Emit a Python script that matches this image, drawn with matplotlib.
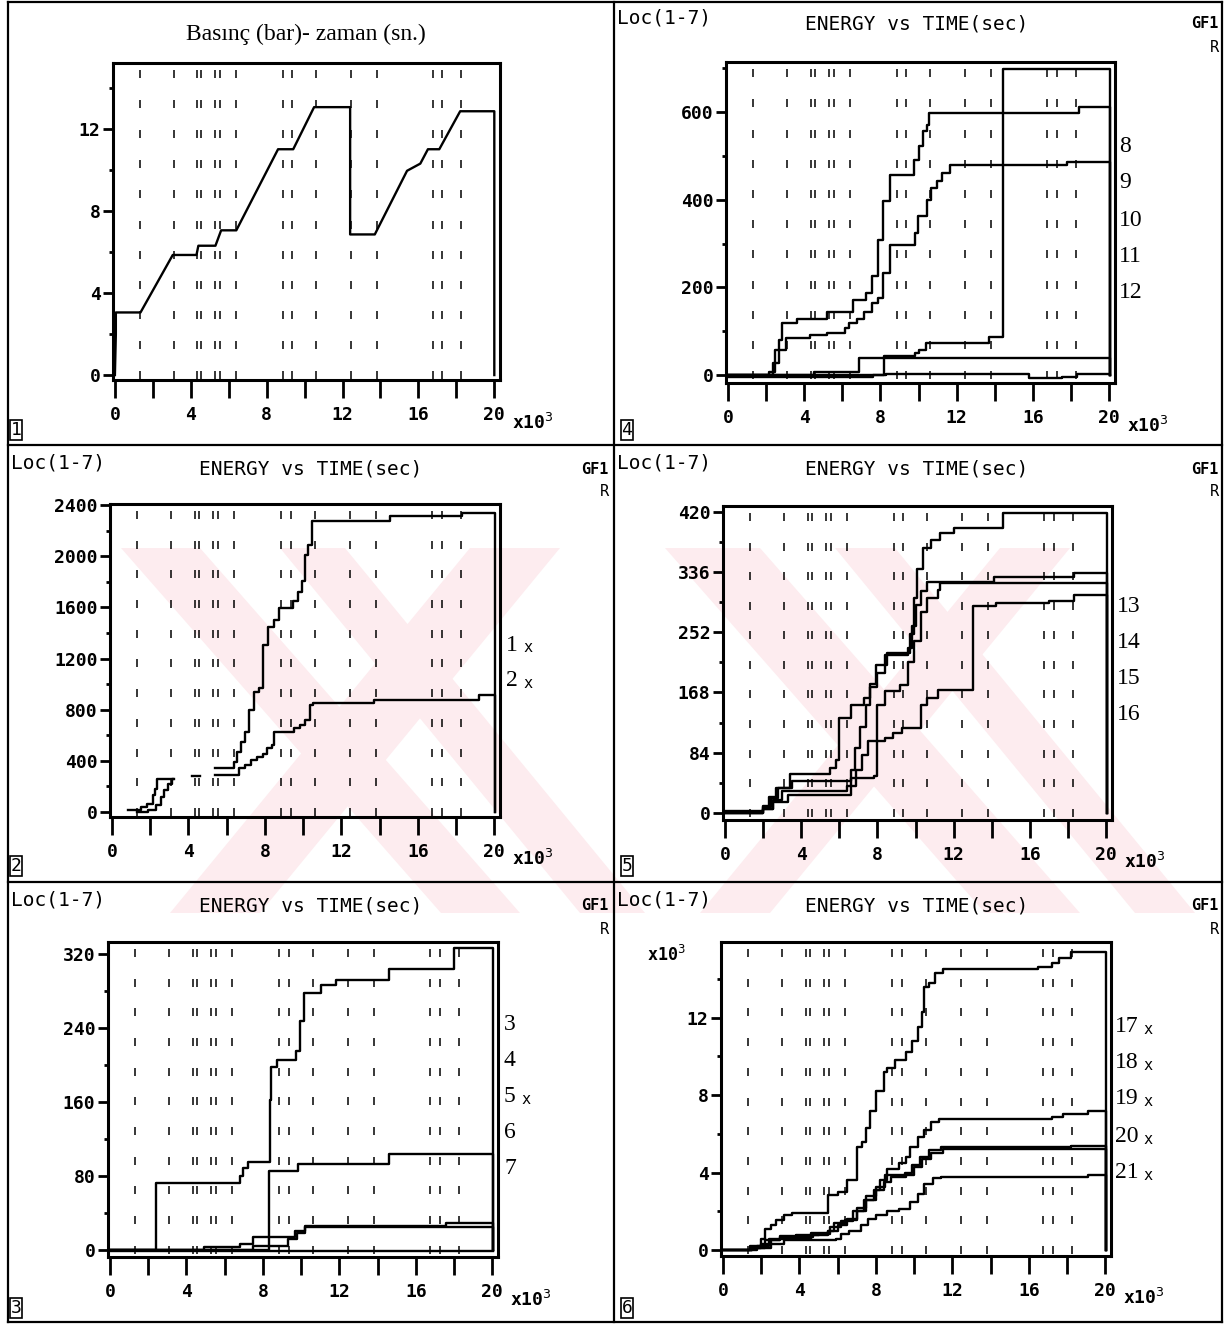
import numpy as np
import matplotlib.pyplot as plt
from matplotlib.patches import Polygon
from matplotlib.ticker import MultipleLocator

nan = np.nan

# ---- data (time in 10^3 s) ----
# panel 1: pressure (bar) vs time
p1_time = [0.0, 0.05, 0.05, 1.35, 3.05, 4.3, 4.4, 5.3, 5.6, 6.4, 8.6, 9.4, 10.5, 12.4, 12.4,
           13.7, 15.4, 16.1, 16.5, 17.1, 18.2, 20.0, 20.0]
p1_bar = [0.0, 2.0, 3.05, 3.05, 5.85, 5.85, 6.3, 6.3, 7.05, 7.05, 11.0, 11.0, 13.05, 13.05, 6.85,
          6.85, 9.95, 10.3, 11.0, 11.0, 12.85, 12.85, 0.0]

# event times shown as dotted columns in every panel
event_times = [1.33, 3.1, 4.35, 4.55, 5.3, 5.55, 6.4, 8.85, 9.35, 10.6, 12.45, 13.8, 16.75, 17.25, 18.25]

# panel 4: locations 8-12
s8_t = [0, 2.15, 2.45, 2.66, 2.86, 3.64, 5.21, 6.54, 7.26, 7.57, 7.87, 8.14, 8.49, 9.78, 10.02,
        10.22, 10.43, 10.53, 18.4, 20.05]
s8_v = [0, 8, 57, 80, 118, 129, 145, 171, 187, 225, 308, 396, 457, 491, 522, 556, 571, 598, 611, 0]
s9_t = [0, 2.35, 2.66, 3.07, 4.29, 5.2, 6.13, 6.35, 6.75, 7.16, 7.57, 7.87, 8.14, 8.49, 9.82, 9.98,
        10.43, 10.67, 10.94, 11.25, 11.66, 17.8, 20.05]
s9_v = [0, 27, 57, 84, 91, 95, 107, 118, 129, 145, 164, 175, 232, 297, 324, 362, 400, 426, 442,
        461, 478, 485, 0]
s10_t = [0, 8.2, 9.8, 10.0, 10.4, 13.7, 14.42, 20.05]
s10_v = [0, 43, 50, 57, 74, 86, 697, 0]
s11_t = [0, 4.5, 6.85, 20.05]
s11_v = [0, 8, 40, 0]
s12_t = [0, 7.6, 8.3, 15.8, 17.5, 18.3, 20.05]
s12_v = [-4, 0, 3, -6, -4, 2, 0]

# panel 2: locations 1-2
s1_t = [0.82, 1.54, 1.84, 2.15, 2.25, 2.35, 3.17, 4.2, 4.6, 5.4, 6.39, 6.55, 6.76, 6.96, 7.16, 7.43,
        7.68, 7.92, 8.19, 8.5, 8.74, 9.48, 9.72, 9.93, 10.09, 10.24, 10.44, 14.53, 18.32, 20.05]
s1_v = [13, 39, 65, 130, 183, 261, nan, 280, nan, 340, 392, 470, 549, 627, 797, 941, 967, 1307,
        1451, 1503, 1595, 1647, 1725, 1804, 2013, 2092, 2275, 2314, 2340, 0]
s2_t = [1.3, 1.9, 2.3, 2.55, 2.75, 2.95, 3.15, 3.25, 5.4, 6.65, 6.96, 7.27, 7.57, 7.88, 8.09, 8.39,
        8.5, 9.52, 9.83, 10.09, 10.34, 10.54, 13.72, 19.18, 20.05]
s2_v = [0, 13, 52, 118, 170, 222, 261, nan, 288, 340, 366, 405, 431, 457, 497, 523, 627, 654, 680,
        719, 837, 850, 876, 915, 0]

# panel 5: locations 13-16
s13_t = [0, 2.0, 2.3, 2.7, 3.4, 5.5, 5.8, 6.0, 6.6, 7.3, 7.6, 7.9, 8.5, 9.7, 9.9, 10.1, 10.4, 10.8,
         11.3, 12.0, 14.6, 20.05]
s13_v = [2, 10, 22, 35, 54, 62, 74, 132, 150, 160, 180, 206, 223, 250, 300, 340, 369, 380, 390,
         397, 418, 0]
s14_t = [0, 2.0, 2.4, 2.8, 3.5, 6.6, 6.8, 7.1, 7.4, 7.6, 8.0, 8.4, 9.6, 9.8, 10.0, 10.3, 10.6,
         14.1, 18.3, 20.05]
s14_v = [0, 8, 20, 35, 45, 60, 90, 120, 150, 175, 195, 220, 230, 260, 290, 310, 322, 329, 334, 0]
s15_t = [0, 2.0, 2.5, 3.0, 6.4, 6.9, 7.2, 7.5, 8.0, 8.4, 9.2, 9.6, 9.9, 10.3, 10.6, 11.2, 11.3, 20.05]
s15_v = [0, 5, 18, 30, 38, 60, 80, 100, 150, 170, 178, 210, 240, 280, 300, 311, 320, 0]
s16_t = [0, 2.0, 2.5, 3.3, 6.6, 7.8, 8.0, 8.4, 8.8, 9.3, 10.3, 10.6, 11.2, 13.0, 14.2, 17.0, 18.3, 20.05]
s16_v = [0, 5, 15, 25, 49, 51, 100, 105, 112, 118, 150, 160, 172, 288, 292, 295, 304, 0]

# panel 3: locations 3-7
s3_t = [0, 2.43, 6.78, 6.95, 7.2, 8.35, 8.45, 8.75, 9.75, 9.95, 10.15, 11.05, 11.8, 14.6, 18.0, 20.05]
s3_v = [0, 72, 80, 88, 95, 162, 198, 205, 215, 247, 278, 286, 292, 304, 326, 0]
s4_t = [0, 8.3, 9.85, 14.6, 20.05]
s4_v = [0, 85, 93, 103, 0]
s5_t = [0, 4.9, 6.8, 7.5, 9.7, 10.2, 17.6, 20.05]
s5_v = [0, 3, 6, 14, 20, 26, 29, 0]
s6_t = [0, 7.5, 9.3, 9.8, 10.2, 20.05]
s6_v = [0, 4, 11, 18, 24, 0]
s7_t = [0, 20.05]
s7_v = [-2, -2]

# panel 6: locations 17-21 (x10^3)
s17_t = [0, 1.4, 2.0, 2.2, 2.5, 2.8, 3.2, 3.6, 5.5, 6.0, 6.5, 7.0, 7.3, 7.5, 7.7, 8.0, 8.4, 8.6,
         9.0, 9.6, 9.9, 10.2, 10.4, 10.5, 10.8, 11.1, 11.5, 16.5, 17.2, 17.6, 18.2, 20.05]
s17_v = [0, 0.2, 0.6, 1.1, 1.3, 1.55, 1.8, 1.9, 2.84, 3.0, 3.6, 5.3, 5.6, 6.3, 7.2, 8.2, 9.2, 9.4,
         9.8, 10.2, 10.8, 11.5, 12.3, 13.6, 13.8, 14.3, 14.5, 14.6, 14.8, 15.1, 15.4, 0]
s18_t = [0, 1.5, 2.2, 3.0, 4.7, 5.5, 5.8, 6.4, 7.0, 7.5, 8.0, 8.2, 8.6, 9.2, 9.6, 9.8, 10.2, 10.5,
         10.9, 11.3, 17.2, 17.8, 19.1, 20.05]
s18_v = [0, 0.1, 0.5, 0.7, 0.8, 1.0, 1.4, 1.55, 2.0, 2.6, 3.1, 3.6, 4.2, 4.5, 4.8, 5.3, 5.85, 6.2,
         6.6, 6.75, 6.85, 7.05, 7.2, 0]
s19_t = [0, 1.5, 2.5, 3.0, 4.6, 5.5, 6.0, 6.5, 7.0, 7.5, 8.0, 8.5, 9.5, 9.9, 10.3, 10.8, 11.4, 18.2, 20.05]
s19_v = [0, 0.1, 0.5, 0.6, 0.9, 1.0, 1.3, 1.6, 2.2, 2.8, 3.27, 3.87, 4.0, 4.4, 4.8, 5.16, 5.3, 5.4, 0]
s20_t = [0, 1.5, 2.0, 3.2, 5.9, 6.2, 6.6, 7.2, 7.6, 8.0, 8.6, 9.2, 9.8, 10.2, 10.5, 11.0, 11.4, 19.1, 20.05]
s20_v = [0, 0.1, 0.3, 0.5, 0.6, 0.86, 1.0, 1.3, 1.6, 1.8, 2.0, 2.15, 2.5, 2.9, 3.4, 3.7, 3.8, 3.9, 0]
s21_t = [0, 1.8, 2.4, 3.0, 3.8, 5.0, 5.6, 6.2, 6.8, 7.4, 7.9, 8.4, 8.8, 9.6, 10.0, 10.4, 10.9, 11.5, 20.05]
s21_v = [0, 0.2, 0.6, 0.75, 0.8, 0.85, 1.2, 1.5, 2.0, 2.6, 3.1, 3.5, 3.8, 3.9, 4.3, 4.7, 5.0, 5.2, 0]

W, H = 1226, 1324
fig = plt.figure(figsize=(W / 100, H / 100), dpi=100)
fig.patch.set_facecolor('white')

MONO = 'DejaVu Sans Mono'
SERIF = 'Liberation Serif'


def px_axes(x0, y0, x1, y1):
    return fig.add_axes([x0 / W, 1 - y1 / H, (x1 - x0) / W, (y1 - y0) / H])


def ftext(x, y, s, **kw):
    return fig.text(x / W, 1 - y / H, s, **kw)


# background: pale watermark and panel frame lines
bg = fig.add_axes([0, 0, 1, 1], zorder=-5)
bg.set_xlim(0, W)
bg.set_ylim(H, 0)
bg.axis('off')
pink = '#fdecef'
for xa, xb, dx in [(121, 200, 320), (280, 345, 300), (665, 760, 320), (835, 895, 300),
                   (470, 560, -300), (1000, 1070, -300)]:
    bg.add_patch(Polygon([(xa, 548), (xb, 548), (xb + dx, 913), (xa + dx, 913)],
                         closed=True, color=pink, lw=0))
for x in [8, 614, 1222]:
    bg.plot([x, x], [2, 1322], color='black', lw=1.6)
for y in [2, 445, 882, 1322]:
    bg.plot([8, 1222], [y, y], color='black', lw=1.6)


def style(ax, ylim, major, minor):
    ax.set_facecolor('none')
    ax.set_xlim(-0.1, 20.3)
    ax.set_ylim(*ylim)
    ax.xaxis.set_major_locator(MultipleLocator(4))
    ax.xaxis.set_minor_locator(MultipleLocator(2))
    ax.yaxis.set_major_locator(MultipleLocator(major))
    ax.yaxis.set_minor_locator(MultipleLocator(minor))
    ax.tick_params(axis='x', which='both', direction='out', length=13, width=2, pad=6)
    ax.tick_params(axis='y', which='major', direction='out', length=7, width=2, pad=2)
    ax.tick_params(axis='y', which='minor', direction='out', length=3, width=2)
    for lab in ax.get_xticklabels() + ax.get_yticklabels():
        lab.set_fontfamily(MONO)
        lab.set_fontweight('bold')
        lab.set_fontsize(13)
    for sp in ax.spines.values():
        sp.set_linewidth(2.2)
    # dotted event grid
    y0 = (0 - ylim[0]) / (ylim[1] - ylim[0])
    rows = y0 + np.arange(11) * (0.965 - y0) / 10
    tr = ax.get_xaxis_transform()
    for t in event_times:
        ax.plot([t] * len(rows), rows, ls='none', marker='|', ms=6, mew=1.1,
                color='black', transform=tr, clip_on=False)
    ax.text(1.03, -0.135, 'x10$^{3}$', transform=ax.transAxes, fontsize=13,
            fontfamily=MONO, fontweight='bold', va='center')


def header(x0, y0, x1):
    ftext(x0 + 3, y0 + 18, 'Loc(1-7)', fontfamily=MONO, fontsize=14, va='center')
    ftext(x0 + 303, y0 + 24, 'ENERGY vs TIME(sec)', fontfamily=MONO, fontsize=14,
          ha='center', va='center')
    ftext(x1 - 3, y0 + 24, 'GF1', fontfamily=MONO, fontsize=11, fontweight='bold',
          ha='right', va='center')
    ftext(x1 - 3, y0 + 47, 'R', fontfamily=MONO, fontsize=11, ha='right', va='center')


def panel_no(x, y, s):
    ftext(x, y, s, fontfamily=MONO, fontsize=13, ha='center', va='center',
          bbox=dict(boxstyle='square,pad=0.05', fc='white', ec='black', lw=1.2))


def labels(x, ys, names, mark=False):
    for y, n in zip(ys, names):
        ftext(x, y, n, fontfamily=SERIF, fontsize=17, va='center')
        if mark:
            ftext(x + 11 * len(n) + 6, y + 3, 'x', fontfamily=MONO, fontsize=11, va='center')


LW = 1.7

# panel 1
ax1 = px_axes(113, 63, 500, 380)
ax1.plot(p1_time, p1_bar, color='black', lw=LW)
style(ax1, (-0.24, 15.2), 4, 2)
ftext(306, 34, 'Basınç (bar)- zaman (sn.)', fontfamily=SERIF, fontsize=17,
      ha='center', va='center')
panel_no(16, 430, '1')

# panel 4
ax4 = px_axes(726, 62, 1115, 383)
for t, v in [(s8_t, s8_v), (s9_t, s9_v), (s10_t, s10_v), (s11_t, s11_v), (s12_t, s12_v)]:
    ax4.step(t, v, where='post', color='black', lw=LW)
style(ax4, (-18, 714), 200, 100)
header(614, 0, 1222)
labels(1119, [147, 183, 220, 256, 293], ['8', '9', '10', '11', '12'])
panel_no(627, 430, '4')

# panel 2
ax2 = px_axes(110, 504, 500, 817)
for t, v in [(s1_t, s1_v), (s2_t, s2_v)]:
    ax2.step(t, v, where='post', color='black', lw=LW)
style(ax2, (-40, 2410), 400, 200)
header(8, 445, 612)
labels(506, [645, 680], ['1', '2'], mark=True)
panel_no(16, 866, '2')

# panel 5
ax5 = px_axes(723, 506, 1112, 820)
for t, v in [(s13_t, s13_v), (s14_t, s14_v), (s15_t, s15_v), (s16_t, s16_v)]:
    ax5.step(t, v, where='post', color='black', lw=LW)
style(ax5, (-10, 428), 84, 42)
header(614, 445, 1222)
labels(1117, [606, 642, 678, 714], ['13', '14', '15', '16'])
panel_no(627, 866, '5')

# panel 3
ax3 = px_axes(108, 942, 498, 1257)
for t, v in [(s3_t, s3_v), (s4_t, s4_v), (s5_t, s5_v), (s6_t, s6_v), (s7_t, s7_v)]:
    ax3.step(t, v, where='post', color='black', lw=LW)
style(ax3, (-8, 333), 80, 40)
header(8, 882, 612)
labels(504, [1024, 1060, 1132, 1168], ['3', '4', '6', '7'])
labels(504, [1096], ['5'], mark=True)
panel_no(16, 1308, '3')

# panel 6
ax6 = px_axes(721, 942, 1111, 1256)
for t, v in [(s17_t, s17_v), (s18_t, s18_v), (s19_t, s19_v), (s20_t, s20_v), (s21_t, s21_v)]:
    ax6.step(t, v, where='post', color='black', lw=LW)
style(ax6, (-0.3, 15.9), 4, 2)
ax6.text(-0.19, 0.96, 'x10$^{3}$', transform=ax6.transAxes, fontsize=12,
         fontfamily=MONO, fontweight='bold', va='center')
header(614, 882, 1222)
labels(1115, [1027, 1063, 1099, 1136, 1172], ['17', '18', '19', '20', '21'], mark=True)
panel_no(627, 1308, '6')

fig.savefig('out.png', dpi=100)
